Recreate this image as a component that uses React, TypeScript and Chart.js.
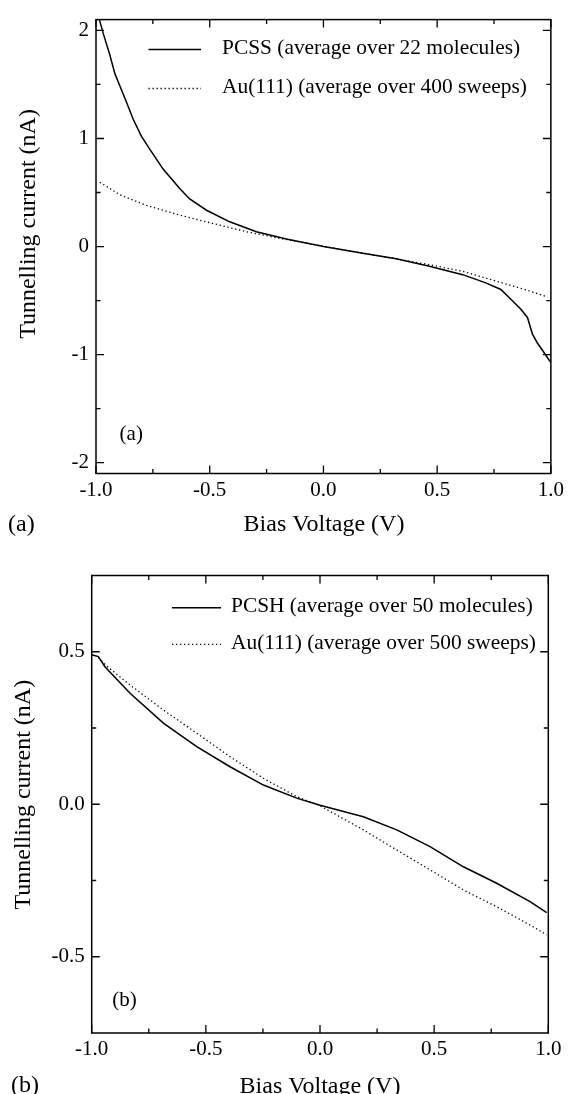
import React, { useEffect, useRef } from "react";
import { Chart, registerables } from "chart.js";
Chart.register(...registerables);

// ---------- data ----------
const xMajorTicks = [-1, -0.5, 0, 0.5, 1];
const xMinorTicks = [-0.75, -0.25, 0.25, 0.75];
const yMajorTicksA = [-2, -1, 0, 1, 2];
const yMinorTicksA = [-1.5, -0.5, 0.5, 1.5];
const yMajorTicksB = [-0.5, 0, 0.5];
const yMinorTicksB = [-0.25, 0.25];

// Panel (a)
const pcssVoltage = [-1.0, -0.985, -0.968, -0.94, -0.917, -0.89, -0.865, -0.836, -0.8, -0.763, -0.705, -0.631, -0.588, -0.514, -0.412, -0.295, -0.163, 0.0, 0.173, 0.32, 0.466, 0.612, 0.714, 0.78, 0.832, 0.868, 0.897, 0.919, 0.94, 0.963, 0.992, 1.0];
const pcssCurrent = [2.21, 2.1, 1.97, 1.78, 1.6, 1.46, 1.33, 1.175, 1.02, 0.9, 0.717, 0.534, 0.44, 0.336, 0.229, 0.137, 0.07, 0.0, -0.061, -0.113, -0.183, -0.26, -0.336, -0.397, -0.504, -0.58, -0.656, -0.81, -0.89, -0.96, -1.05, -1.07];
const au400Voltage = [-0.983, -0.895, -0.778, -0.631, -0.485, -0.339, -0.193, -0.046, 0.1, 0.25, 0.466, 0.612, 0.759, 0.905, 0.985];
const au400Current = [0.595, 0.479, 0.381, 0.29, 0.213, 0.137, 0.076, 0.021, -0.035, -0.088, -0.168, -0.229, -0.32, -0.41, -0.467];

// Panel (b)
const pcshVoltage = [-1.0, -0.971, -0.942, -0.832, -0.686, -0.54, -0.394, -0.248, -0.102, 0.0, 0.19, 0.336, 0.482, 0.628, 0.774, 0.92, 0.993];
const pcshCurrent = [0.49, 0.484, 0.451, 0.364, 0.266, 0.189, 0.123, 0.063, 0.02, -0.003, -0.041, -0.084, -0.139, -0.205, -0.259, -0.319, -0.355];
const au500Voltage = [-0.97, -0.934, -0.832, -0.686, -0.54, -0.394, -0.248, -0.102, 0.0, 0.19, 0.336, 0.482, 0.628, 0.774, 0.92, 0.993];
const au500Current = [0.48, 0.453, 0.391, 0.309, 0.233, 0.156, 0.085, 0.025, -0.005, -0.084, -0.15, -0.215, -0.281, -0.336, -0.396, -0.428];

const FONT = '"Liberation Serif", "Times New Roman", serif';

const toPoints = (xs: number[], ys: number[]) => xs.map((x, i) => ({ x, y: ys[i] }));

const framePlugin = {
  id: "frame",
  afterDatasetsDraw(chart: any, _args: any, opts: any) {
    const { ctx, chartArea } = chart;
    const { left, top, right, bottom } = chartArea;
    const xs = chart.scales.x;
    const ys = chart.scales.y;
    ctx.save();
    ctx.strokeStyle = "#000";
    ctx.lineWidth = 1.5;
    ctx.setLineDash([]);
    ctx.strokeRect(left, top, right - left, bottom - top);
    ctx.lineWidth = 1.3;
    const drawX = (vals: number[], len: number) => {
      vals.forEach((v) => {
        const px = xs.getPixelForValue(v);
        ctx.beginPath();
        ctx.moveTo(px, bottom);
        ctx.lineTo(px, bottom - len);
        ctx.moveTo(px, top);
        ctx.lineTo(px, top + len);
        ctx.stroke();
      });
    };
    const drawY = (vals: number[], len: number) => {
      vals.forEach((v) => {
        const py = ys.getPixelForValue(v);
        ctx.beginPath();
        ctx.moveTo(left, py);
        ctx.lineTo(left + len, py);
        ctx.moveTo(right, py);
        ctx.lineTo(right - len, py);
        ctx.stroke();
      });
    };
    drawX(opts.xMajor, 8);
    drawX(opts.xMinor, 4.5);
    drawY(opts.yMajor, 8);
    drawY(opts.yMinor, 4.5);

    // legend
    ctx.fillStyle = "#000";
    ctx.textBaseline = "middle";
    ctx.textAlign = "left";
    ctx.font = `21.4px ${FONT}`;
    chart.data.datasets.forEach((ds: any, i: number) => {
      const ry = opts.legend.rows[i];
      ctx.save();
      ctx.lineWidth = ds.borderWidth;
      ctx.setLineDash(ds.borderDash || []);
      ctx.beginPath();
      ctx.moveTo(opts.legend.x1, ry + 1);
      ctx.lineTo(opts.legend.x2, ry + 1);
      ctx.stroke();
      ctx.restore();
      ctx.fillText(ds.label, opts.legend.textX, ry);
    });

    // axis titles
    ctx.font = `24px ${FONT}`;
    ctx.textAlign = "center";
    ctx.fillText(opts.xTitle, opts.xTitlePos[0], opts.xTitlePos[1]);
    ctx.save();
    ctx.translate(opts.yTitlePos[0], opts.yTitlePos[1]);
    ctx.rotate(-Math.PI / 2);
    ctx.fillText(opts.yTitle, 0, 0);
    ctx.restore();

    // panel letters
    ctx.textAlign = "left";
    ctx.font = `21px ${FONT}`;
    ctx.fillText(opts.innerLabel, opts.innerPos[0], opts.innerPos[1]);
    ctx.font = `24px ${FONT}`;
    ctx.fillText(opts.outerLabel, opts.outerPos[0], opts.outerPos[1]);
    ctx.restore();
  },
};

function makeConfig(p: any) {
  return {
    type: "scatter",
    data: {
      datasets: [
        {
          label: p.solidLabel,
          data: toPoints(p.solidX, p.solidY),
          showLine: true,
          borderColor: "#000",
          borderWidth: 1.5,
          borderDash: [],
          pointRadius: 0,
          tension: 0,
        },
        {
          label: p.dotLabel,
          data: toPoints(p.dotX, p.dotY),
          showLine: true,
          borderColor: "#000",
          borderWidth: 1.3,
          borderDash: [1.3, 2.7],
          pointRadius: 0,
          tension: 0,
        },
      ],
    },
    options: {
      responsive: false,
      animation: false,
      devicePixelRatio: 1,
      layout: { padding: p.padding },
      plugins: {
        legend: { display: false },
        tooltip: { enabled: false },
        frame: p.frame,
      },
      scales: {
        x: {
          type: "linear",
          min: -1,
          max: 1,
          afterBuildTicks: (s: any) => {
            s.ticks = xMajorTicks.map((v) => ({ value: v }));
          },
          afterFit: (s: any) => {
            s.height = p.xHeight;
          },
          ticks: {
            callback: (v: number) => v.toFixed(1),
            font: { family: FONT, size: 21 },
            color: "#000",
            padding: 4,
            maxRotation: 0,
          },
          grid: { display: false, drawTicks: false },
          border: { display: false },
        },
        y: {
          type: "linear",
          min: p.yMin,
          max: p.yMax,
          afterBuildTicks: (s: any) => {
            s.ticks = p.yMajor.map((v: number) => ({ value: v }));
          },
          afterFit: (s: any) => {
            s.width = p.yWidth;
          },
          ticks: {
            callback: p.yFmt,
            font: { family: FONT, size: 21 },
            color: "#000",
            padding: 7,
          },
          grid: { display: false, drawTicks: false },
          border: { display: false },
        },
      },
    },
    plugins: [framePlugin],
  };
}

export default function App() {
  const refA = useRef<HTMLCanvasElement>(null);
  const refB = useRef<HTMLCanvasElement>(null);

  useEffect(() => {
    const cfgA = makeConfig({
      solidLabel: "PCSS (average over 22 molecules)",
      dotLabel: "Au(111) (average over 400 sweeps)",
      solidX: pcssVoltage,
      solidY: pcssCurrent,
      dotX: au400Voltage,
      dotY: au400Current,
      yMin: -2.1,
      yMax: 2.1,
      yMajor: yMajorTicksA,
      yFmt: (v: number) => String(v),
      padding: { top: 15.5, right: 16, left: 0, bottom: 0 },
      yWidth: 96,
      xHeight: 74.5,
      frame: {
        xMajor: xMajorTicks,
        xMinor: xMinorTicks,
        yMajor: yMajorTicksA,
        yMinor: yMinorTicksA,
        legend: { x1: 148.5, x2: 201, textX: 222, rows: [48.5, 87.5] },
        xTitle: "Bias Voltage (V)",
        xTitlePos: [324, 525],
        yTitle: "Tunnelling current (nA)",
        yTitlePos: [29, 224],
        innerLabel: "(a)",
        innerPos: [119.6, 434],
        outerLabel: "(a)",
        outerPos: [8, 525],
      },
    });
    const cfgB = makeConfig({
      solidLabel: "PCSH (average over 50 molecules)",
      dotLabel: "Au(111) (average over 500 sweeps)",
      solidX: pcshVoltage,
      solidY: pcshCurrent,
      dotX: au500Voltage,
      dotY: au500Current,
      yMin: -0.75,
      yMax: 0.75,
      yMajor: yMajorTicksB,
      yFmt: (v: number) => v.toFixed(1),
      padding: { top: 27.5, right: 19.7, left: 0, bottom: 0 },
      yWidth: 91.7,
      xHeight: 61,
      frame: {
        xMajor: xMajorTicks,
        xMinor: xMinorTicks,
        yMajor: yMajorTicksB,
        yMinor: yMinorTicksB,
        legend: { x1: 172, x2: 221, textX: 231, rows: [58.7, 95.3] },
        xTitle: "Bias Voltage (V)",
        xTitlePos: [320, 539],
        yTitle: "Tunnelling current (nA)",
        yTitlePos: [23.6, 246.7],
        innerLabel: "(b)",
        innerPos: [112.3, 452.5],
        outerLabel: "(b)",
        outerPos: [11, 537.5],
      },
    });
    const a = new Chart(refA.current as HTMLCanvasElement, cfgA as any);
    const b = new Chart(refB.current as HTMLCanvasElement, cfgB as any);
    return () => {
      a.destroy();
      b.destroy();
    };
  }, []);

  return (
    <div style={{ position: "fixed", left: 0, top: 0, width: 568, height: 1094, background: "#fff" }}>
      <canvas ref={refA} width={568} height={548} style={{ position: "absolute", left: 0, top: 0, width: 568, height: 548, display: "block" }} />
      <canvas ref={refB} width={568} height={546} style={{ position: "absolute", left: 0, top: 548, width: 568, height: 546, display: "block" }} />
    </div>
  );
}
